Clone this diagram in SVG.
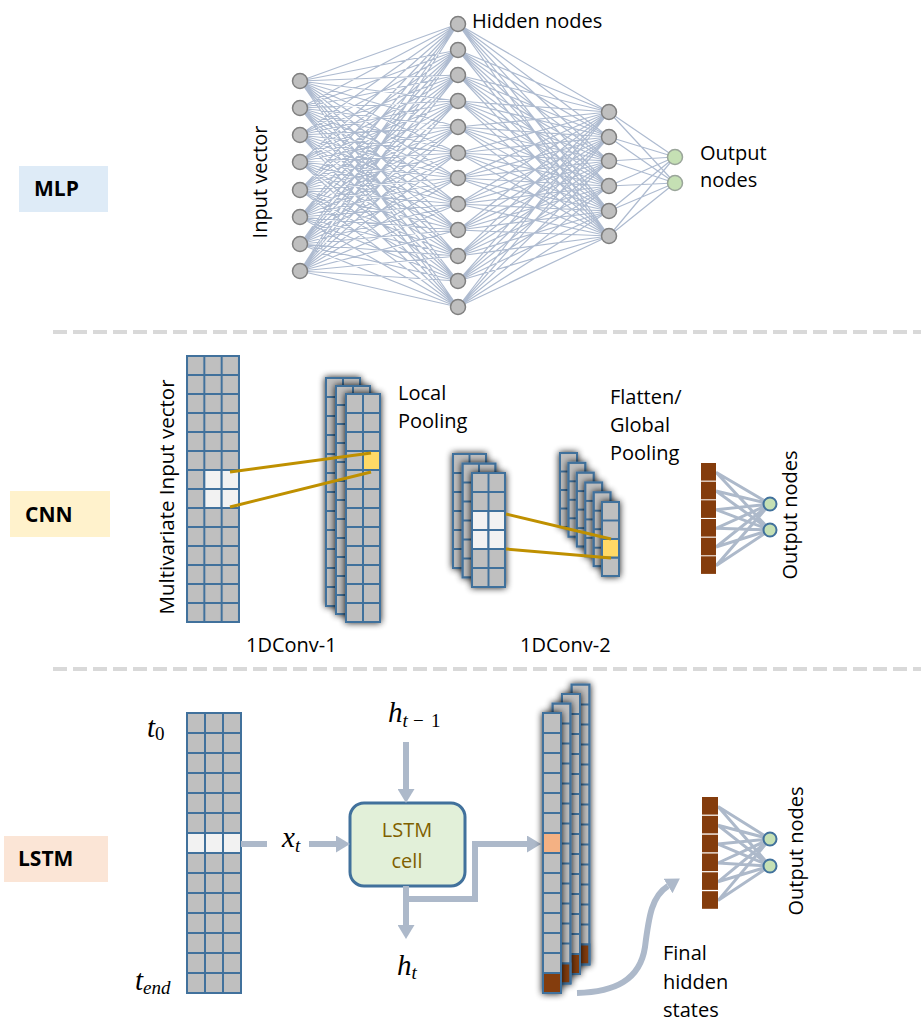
<svg xmlns="http://www.w3.org/2000/svg" width="921" height="1022" viewBox="0 0 921 1022">
<style>
text{font-family:"Open Sans","Liberation Sans",sans-serif;font-size:20px;fill:#000}
.lbl{font-weight:bold;font-size:21px}
.m{font-family:"Liberation Serif","DejaVu Serif",serif;font-style:italic;font-size:29px}
.s{font-size:19px}
.up{font-style:normal}
.mlp{stroke:#AEBBD0;stroke-width:1.2;fill:none}
.nd{fill:#BFBFBF;stroke:#7F7F7F;stroke-width:1.5}
.on{fill:#C5E0B4;stroke:#9AA59A;stroke-width:1.5}
.on2{fill:#C5E0B4;stroke:#41719C;stroke-width:2}
.bx{fill:none;stroke:#41719C;stroke-width:2}
.hl{fill:#F2F2F2;stroke:#41719C;stroke-width:2}
.ye{fill:#FFD966;stroke:#41719C;stroke-width:2}
.or{fill:#F4B183;stroke:#41719C;stroke-width:2}
.bc{fill:#843C0C;stroke:#41719C;stroke-width:2}
.br{fill:#843C0C}
.gold{stroke:#BF9000;stroke-width:3}
.fc{stroke:#ADB9CA;stroke-width:3;fill:none}
.ar{stroke:#ADB9CA;stroke-width:6;fill:none}
.dash{stroke:#D9D9D9;stroke-width:4;stroke-dasharray:14 6}
</style>
<defs>
<pattern id="pA" patternUnits="userSpaceOnUse" width="17.333" height="19"><rect width="17.333" height="19" fill="#BFBFBF" stroke="#41719C" stroke-width="2"/></pattern>
<pattern id="pB" patternUnits="userSpaceOnUse" width="17" height="19"><rect width="17" height="19" fill="#BFBFBF" stroke="#41719C" stroke-width="2"/></pattern>
<pattern id="pC" patternUnits="userSpaceOnUse" width="16.5" height="19"><rect width="16.5" height="19" fill="#BFBFBF" stroke="#41719C" stroke-width="2"/></pattern>
<pattern id="pD" patternUnits="userSpaceOnUse" width="17" height="18.5"><rect width="17" height="18.5" fill="#BFBFBF" stroke="#41719C" stroke-width="2"/></pattern>
<pattern id="pE" patternUnits="userSpaceOnUse" width="18" height="20"><rect width="18" height="20" fill="#BFBFBF" stroke="#41719C" stroke-width="2"/></pattern>
<filter id="sh" x="-80%" y="-15%" width="260%" height="130%">
<feGaussianBlur in="SourceAlpha" stdDeviation="3.5"/>
<feComponentTransfer><feFuncA type="linear" slope="0.9"/></feComponentTransfer>
<feMerge><feMergeNode/><feMergeNode in="SourceGraphic"/></feMerge>
</filter>
<marker id="ah" viewBox="0 0 14 17" refX="0" refY="8.5" markerWidth="14" markerHeight="17" markerUnits="userSpaceOnUse" orient="auto"><path d="M0 0L14 8.5L0 17z" fill="#ADB9CA"/></marker>
</defs>

<!-- section separators -->
<line x1="53" y1="332" x2="921" y2="332" class="dash"/>
<line x1="53" y1="669" x2="921" y2="669" class="dash"/>

<!-- section labels -->
<g id="label-mlp"><rect x="19" y="166" width="89" height="46" fill="#DEEBF7"/><text x="34" y="196" class="lbl">MLP</text></g>
<g id="label-cnn"><rect x="10" y="491" width="100" height="46" fill="#FFF2CC"/><text x="25" y="522" class="lbl">CNN</text></g>
<g id="label-lstm"><rect x="4" y="836" width="104" height="46" fill="#FBE5D6"/><text x="18" y="866" class="lbl">LSTM</text></g>

<!-- MLP connectors -->
<g id="mlp-connectors" class="mlp">
<path d="M300 81L458 24M300 81L458 50M300 81L458 75M300 81L458 101M300 81L458 127M300 81L458 153M300 81L458 178M300 81L458 204M300 81L458 230M300 81L458 256M300 81L458 281M300 81L458 307
M300 108L458 24M300 108L458 50M300 108L458 75M300 108L458 101M300 108L458 127M300 108L458 153M300 108L458 178M300 108L458 204M300 108L458 230M300 108L458 256M300 108L458 281M300 108L458 307
M300 135L458 24M300 135L458 50M300 135L458 75M300 135L458 101M300 135L458 127M300 135L458 153M300 135L458 178M300 135L458 204M300 135L458 230M300 135L458 256M300 135L458 281M300 135L458 307
M300 162L458 24M300 162L458 50M300 162L458 75M300 162L458 101M300 162L458 127M300 162L458 153M300 162L458 178M300 162L458 204M300 162L458 230M300 162L458 256M300 162L458 281M300 162L458 307
M300 190L458 24M300 190L458 50M300 190L458 75M300 190L458 101M300 190L458 127M300 190L458 153M300 190L458 178M300 190L458 204M300 190L458 230M300 190L458 256M300 190L458 281M300 190L458 307
M300 217L458 24M300 217L458 50M300 217L458 75M300 217L458 101M300 217L458 127M300 217L458 153M300 217L458 178M300 217L458 204M300 217L458 230M300 217L458 256M300 217L458 281M300 217L458 307
M300 244L458 24M300 244L458 50M300 244L458 75M300 244L458 101M300 244L458 127M300 244L458 153M300 244L458 178M300 244L458 204M300 244L458 230M300 244L458 256M300 244L458 281M300 244L458 307
M300 271L458 24M300 271L458 50M300 271L458 75M300 271L458 101M300 271L458 127M300 271L458 153M300 271L458 178M300 271L458 204M300 271L458 230M300 271L458 256M300 271L458 281M300 271L458 307"/>
<path d="M458 24L609 112M458 24L609 137M458 24L609 161M458 24L609 186M458 24L609 211M458 24L609 236
M458 50L609 112M458 50L609 137M458 50L609 161M458 50L609 186M458 50L609 211M458 50L609 236
M458 75L609 112M458 75L609 137M458 75L609 161M458 75L609 186M458 75L609 211M458 75L609 236
M458 101L609 112M458 101L609 137M458 101L609 161M458 101L609 186M458 101L609 211M458 101L609 236
M458 127L609 112M458 127L609 137M458 127L609 161M458 127L609 186M458 127L609 211M458 127L609 236
M458 153L609 112M458 153L609 137M458 153L609 161M458 153L609 186M458 153L609 211M458 153L609 236
M458 178L609 112M458 178L609 137M458 178L609 161M458 178L609 186M458 178L609 211M458 178L609 236
M458 204L609 112M458 204L609 137M458 204L609 161M458 204L609 186M458 204L609 211M458 204L609 236
M458 230L609 112M458 230L609 137M458 230L609 161M458 230L609 186M458 230L609 211M458 230L609 236
M458 256L609 112M458 256L609 137M458 256L609 161M458 256L609 186M458 256L609 211M458 256L609 236
M458 281L609 112M458 281L609 137M458 281L609 161M458 281L609 186M458 281L609 211M458 281L609 236
M458 307L609 112M458 307L609 137M458 307L609 161M458 307L609 186M458 307L609 211M458 307L609 236"/>
<path d="M609 112L675 157M609 112L675 183M609 137L675 157M609 137L675 183M609 161L675 157M609 161L675 183M609 186L675 157M609 186L675 183M609 211L675 157M609 211L675 183M609 236L675 157M609 236L675 183"/>
</g>

<!-- MLP nodes -->
<g id="mlp-input">
<circle cx="300" cy="81" r="7.5" class="nd"/><circle cx="300" cy="108" r="7.5" class="nd"/><circle cx="300" cy="135" r="7.5" class="nd"/><circle cx="300" cy="162" r="7.5" class="nd"/><circle cx="300" cy="190" r="7.5" class="nd"/><circle cx="300" cy="217" r="7.5" class="nd"/><circle cx="300" cy="244" r="7.5" class="nd"/><circle cx="300" cy="271" r="7.5" class="nd"/>
</g>
<g id="mlp-hidden">
<circle cx="458" cy="24" r="7.5" class="nd"/><circle cx="458" cy="50" r="7.5" class="nd"/><circle cx="458" cy="75" r="7.5" class="nd"/><circle cx="458" cy="101" r="7.5" class="nd"/><circle cx="458" cy="127" r="7.5" class="nd"/><circle cx="458" cy="153" r="7.5" class="nd"/><circle cx="458" cy="178" r="7.5" class="nd"/><circle cx="458" cy="204" r="7.5" class="nd"/><circle cx="458" cy="230" r="7.5" class="nd"/><circle cx="458" cy="256" r="7.5" class="nd"/><circle cx="458" cy="281" r="7.5" class="nd"/><circle cx="458" cy="307" r="7.5" class="nd"/>
</g>
<g id="mlp-hidden2">
<circle cx="609" cy="112" r="7.5" class="nd"/><circle cx="609" cy="137" r="7.5" class="nd"/><circle cx="609" cy="161" r="7.5" class="nd"/><circle cx="609" cy="186" r="7.5" class="nd"/><circle cx="609" cy="211" r="7.5" class="nd"/><circle cx="609" cy="236" r="7.5" class="nd"/>
</g>
<g id="mlp-output">
<circle cx="675" cy="157" r="7.5" class="on"/><circle cx="675" cy="183" r="7.5" class="on"/>
</g>
<text x="472" y="28">Hidden nodes</text>
<text transform="translate(267,182) rotate(-90)" text-anchor="middle">Input vector</text>
<text x="700" y="160">Output</text>
<text x="700" y="187">nodes</text>

<!-- CNN -->
<g id="cnn-input" transform="translate(187,356)">
<rect width="52" height="266" fill="url(#pA)"/>
<rect x="17.333" y="114" width="17.333" height="19" class="hl"/><rect x="34.667" y="114" width="17.333" height="19" class="hl"/>
<rect x="17.333" y="133" width="17.333" height="19" class="hl"/><rect x="34.667" y="133" width="17.333" height="19" class="hl"/>
<rect width="52" height="266" class="bx"/>
</g>
<text transform="translate(174,497) rotate(-90)" text-anchor="middle" style="font-size:20.5px">Multivariate Input vector</text>

<g id="conv1">
<g filter="url(#sh)" transform="translate(326,378)"><rect width="34" height="228" fill="url(#pB)"/><rect width="34" height="228" class="bx"/></g>
<g filter="url(#sh)" transform="translate(336,386)"><rect width="34" height="228" fill="url(#pB)"/><rect width="34" height="228" class="bx"/></g>
<g filter="url(#sh)" transform="translate(346,394)"><rect width="34" height="228" fill="url(#pB)"/><rect x="17" y="57" width="17" height="19" class="ye"/><rect width="34" height="228" class="bx"/></g>
</g>
<text x="398" y="400">Local</text>
<text x="398" y="428">Pooling</text>
<text x="246" y="652">1DConv-1</text>

<g id="conv2">
<g filter="url(#sh)" transform="translate(453,454)"><rect width="33" height="114" fill="url(#pC)"/><rect width="33" height="114" class="bx"/></g>
<g filter="url(#sh)" transform="translate(462.5,463.5)"><rect width="33" height="114" fill="url(#pC)"/><rect width="33" height="114" class="bx"/></g>
<g filter="url(#sh)" transform="translate(472,473)"><rect width="33" height="114" fill="url(#pC)"/>
<rect x="0" y="38" width="16.5" height="19" class="hl"/><rect x="16.5" y="38" width="16.5" height="19" class="hl"/>
<rect x="0" y="57" width="16.5" height="19" class="hl"/><rect x="16.5" y="57" width="16.5" height="19" class="hl"/>
<rect width="33" height="114" class="bx"/></g>
</g>

<g id="conv2-out">
<g filter="url(#sh)" transform="translate(560,453)"><rect width="17" height="74" fill="url(#pD)"/><rect width="17" height="74" class="bx"/></g>
<g filter="url(#sh)" transform="translate(568.4,462.8)"><rect width="17" height="74" fill="url(#pD)"/><rect width="17" height="74" class="bx"/></g>
<g filter="url(#sh)" transform="translate(576.8,472.6)"><rect width="17" height="74" fill="url(#pD)"/><rect width="17" height="74" class="bx"/></g>
<g filter="url(#sh)" transform="translate(585.2,482.4)"><rect width="17" height="74" fill="url(#pD)"/><rect width="17" height="74" class="bx"/></g>
<g filter="url(#sh)" transform="translate(593.6,492.2)"><rect width="17" height="74" fill="url(#pD)"/><rect width="17" height="74" class="bx"/></g>
<g filter="url(#sh)" transform="translate(602,502)"><rect width="17" height="74" fill="url(#pD)"/><rect x="0" y="37" width="17" height="18.5" class="ye"/><rect width="17" height="74" class="bx"/></g>
</g>
<text x="610" y="404">Flatten/</text>
<text x="610" y="432">Global</text>
<text x="610" y="460">Pooling</text>
<text x="520" y="652">1DConv-2</text>

<g id="cnn-connectors">
<line x1="230" y1="472" x2="371" y2="453" class="gold"/>
<line x1="230" y1="507" x2="371" y2="472" class="gold"/>
<line x1="506" y1="514" x2="611" y2="539" class="gold"/>
<line x1="506" y1="549" x2="611" y2="558" class="gold"/>
<g class="fc">
<path d="M716 472.3L770 504M716 472.3L770 530M716 491L770 504M716 491L770 530M716 509.7L770 504M716 509.7L770 530M716 528.3L770 504M716 528.3L770 530M716 547L770 504M716 547L770 530M716 565.7L770 504M716 565.7L770 530"/>
</g>
</g>

<g id="cnn-flat">
<rect x="701" y="463" width="15" height="17.6" class="br"/><rect x="701" y="481.7" width="15" height="17.6" class="br"/><rect x="701" y="500.3" width="15" height="17.6" class="br"/><rect x="701" y="519" width="15" height="17.6" class="br"/><rect x="701" y="537.7" width="15" height="17.6" class="br"/><rect x="701" y="556.3" width="15" height="17.6" class="br"/>
</g>
<g id="cnn-output">
<circle cx="770" cy="504" r="6.5" class="on2"/><circle cx="770" cy="530" r="6.5" class="on2"/>
</g>
<text transform="translate(797,515) rotate(-90)" text-anchor="middle">Output nodes</text>

<!-- LSTM -->
<g id="lstm-input" transform="translate(187,713)">
<rect width="54" height="280" fill="url(#pE)"/>
<rect x="0" y="120" width="18" height="20" class="hl"/><rect x="18" y="120" width="18" height="20" class="hl"/><rect x="36" y="120" width="18" height="20" class="hl"/>
<rect width="54" height="280" class="bx"/>
</g>
<text x="147" y="737" class="m">t<tspan class="s up" dy="3">0</tspan></text>
<text x="135" y="990" class="m">t<tspan class="s" dy="4">end</tspan></text>

<g id="lstm-cell">
<rect x="350" y="803" width="115" height="83" rx="14" fill="#E2F0D9" stroke="#41719C" stroke-width="3"/>
<text x="407" y="837" text-anchor="middle" style="fill:#7F6000">LSTM</text>
<text x="407" y="868" text-anchor="middle" style="fill:#7F6000">cell</text>
</g>

<g id="lstm-connectors">
<line x1="241" y1="844" x2="267" y2="844" class="ar"/>
<line x1="309" y1="844" x2="336" y2="844" class="ar" marker-end="url(#ah)"/>
<line x1="406" y1="742" x2="406" y2="789" class="ar" marker-end="url(#ah)"/>
<line x1="406" y1="886" x2="406" y2="925" class="ar" marker-end="url(#ah)"/>
<path d="M406 899H475V844H527" class="ar" marker-end="url(#ah)"/>
<path d="M577 993C615 992 640 980 645 947C649 915 652 896 668 886" class="ar" marker-end="url(#ah)"/>
<path d="M718 806.4L770 839M718 806.4L770 866M718 825.3L770 839M718 825.3L770 866M718 844.1L770 839M718 844.1L770 866M718 863L770 839M718 863L770 866M718 881.8L770 839M718 881.8L770 866M718 900.6L770 839M718 900.6L770 866" class="fc"/>
</g>
<text x="282" y="847" class="m">x<tspan class="s" dy="5">t</tspan></text>
<text x="388" y="722" class="m">h<tspan class="s" dy="5">t</tspan><tspan class="s up" x="413">−</tspan><tspan class="s up" x="431">1</tspan></text>
<text x="397" y="975" class="m">h<tspan class="s" dy="4">t</tspan></text>

<g id="lstm-states">
<g filter="url(#sh)" transform="translate(571.5,684.5)"><rect width="18" height="280" fill="url(#pE)"/><rect x="0" y="260" width="18" height="20" class="bc"/><rect width="18" height="280" class="bx"/></g>
<g filter="url(#sh)" transform="translate(562,694)"><rect width="18" height="280" fill="url(#pE)"/><rect x="0" y="260" width="18" height="20" class="bc"/><rect width="18" height="280" class="bx"/></g>
<g filter="url(#sh)" transform="translate(552.5,703.5)"><rect width="18" height="280" fill="url(#pE)"/><rect x="0" y="260" width="18" height="20" class="bc"/><rect width="18" height="280" class="bx"/></g>
<g filter="url(#sh)" transform="translate(543,713)"><rect width="18" height="280" fill="url(#pE)"/><rect x="0" y="120" width="18" height="20" class="or"/><rect x="0" y="260" width="18" height="20" class="bc"/><rect width="18" height="280" class="bx"/></g>
</g>
<text x="663" y="960">Final</text>
<text x="663" y="989">hidden</text>
<text x="663" y="1017">states</text>

<g id="lstm-final">
<rect x="702" y="797" width="16" height="17.6" class="br"/><rect x="702" y="815.8" width="16" height="17.6" class="br"/><rect x="702" y="834.7" width="16" height="17.6" class="br"/><rect x="702" y="853.5" width="16" height="17.6" class="br"/><rect x="702" y="872.3" width="16" height="17.6" class="br"/><rect x="702" y="891.2" width="16" height="17.6" class="br"/>
</g>
<g id="lstm-output">
<circle cx="770" cy="839" r="6.5" class="on2"/><circle cx="770" cy="866" r="6.5" class="on2"/>
</g>
<text transform="translate(803,851) rotate(-90)" text-anchor="middle">Output nodes</text>
</svg>
